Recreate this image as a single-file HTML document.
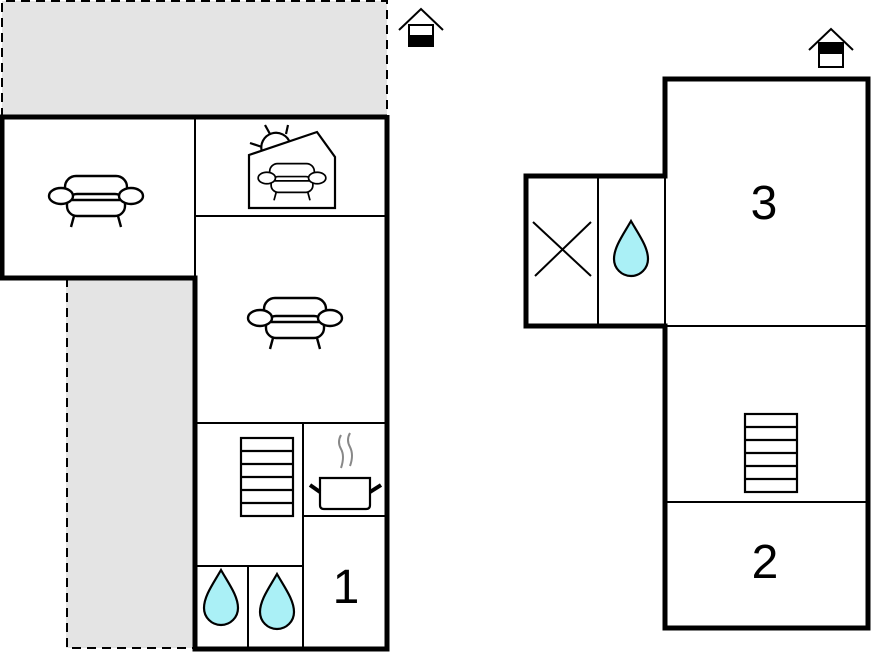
<!DOCTYPE html>
<html><head><style>html,body{margin:0;padding:0;background:#fff}svg{display:block}</style></head><body>
<svg width="873" height="652" viewBox="0 0 873 652" xmlns="http://www.w3.org/2000/svg">
<defs>
<g id="sofa" fill="none" stroke="#000" stroke-width="2.4">
<rect x="-31" y="-20" width="62" height="28" rx="11" fill="#fff"/>
<rect x="-29" y="-2" width="58" height="22" rx="10" fill="#fff"/>
<line x1="-24" y1="4" x2="24" y2="4"/>
<ellipse cx="-35" cy="0" rx="12" ry="8" fill="#fff"/>
<ellipse cx="35" cy="0" rx="12" ry="8" fill="#fff"/>
<line x1="-22" y1="20" x2="-25" y2="31"/><line x1="22" y1="20" x2="25" y2="31"/>
</g>
<path id="drop" d="M0,-30 C-8,-16 -17,-4 -17,8 A17,17 0 0 0 17,8 C17,-4 8,-16 0,-30 Z" fill="#aaf0f6" stroke="#000" stroke-width="2.2"/>
<g id="stairs" fill="none" stroke="#000" stroke-width="2.2">
<rect x="0" y="0" width="52" height="78"/>
<line x1="0" y1="13" x2="52" y2="13"/><line x1="0" y1="26" x2="52" y2="26"/><line x1="0" y1="39" x2="52" y2="39"/><line x1="0" y1="52" x2="52" y2="52"/><line x1="0" y1="65" x2="52" y2="65"/>
</g>
</defs>
<rect x="2" y="1" width="385" height="116" fill="#e4e4e4"/>
<rect x="66" y="278" width="129" height="370" fill="#e4e4e4"/>
<g stroke="#000" stroke-width="2" stroke-dasharray="9,6" fill="none">
<path d="M2,117 V1 H387 V117"/>
<path d="M67,278 V648 H195"/>
</g>
<rect x="2" y="117" width="193" height="161" fill="#fff"/>
<rect x="195" y="117" width="192" height="531" fill="#fff"/>
<g stroke="#000" stroke-width="2" fill="none">
<line x1="195" y1="117" x2="195" y2="278"/>
<line x1="195" y1="216" x2="387" y2="216"/>
<line x1="195" y1="423" x2="387" y2="423"/>
<line x1="303" y1="423" x2="303" y2="648"/>
<line x1="303" y1="516" x2="387" y2="516"/>
<line x1="195" y1="566" x2="303" y2="566"/>
<line x1="248" y1="566" x2="248" y2="648"/>
</g>
<g stroke="#000" stroke-width="5" fill="none">
<path d="M387,117 H2 V278 H195 V649 H387 V115"/>
</g>
<rect x="665" y="79" width="203" height="549" fill="#fff"/>
<rect x="526" y="176" width="139" height="150" fill="#fff"/>
<g stroke="#000" stroke-width="2" fill="none">
<line x1="665" y1="176" x2="665" y2="326"/>
<line x1="598" y1="176" x2="598" y2="326"/>
<line x1="665" y1="326" x2="868" y2="326"/>
<line x1="665" y1="502" x2="868" y2="502"/>
<line x1="533" y1="222" x2="591" y2="276"/><line x1="591" y1="222" x2="535" y2="276"/>
</g>
<g stroke="#000" stroke-width="5" fill="none">
<path d="M665,176 H526 V326 H665 V628 H868 V79 H665 Z"/>
</g>
<use href="#sofa" x="96" y="196"/>
<use href="#sofa" x="295" y="318"/>
<g fill="none" stroke="#000" stroke-width="2.2">
<path d="M262,152 A14,14 0 0 1 290,143"/>
<line x1="250" y1="143" x2="262" y2="147"/><line x1="265" y1="125" x2="270" y2="134"/><line x1="288" y1="125" x2="286" y2="134"/>
<path d="M249,208 V155 L317,132 L335,157 V208 Z" fill="#fff"/>
</g>
<g transform="translate(292,178) scale(0.72)"><use href="#sofa"/></g>
<use href="#stairs" x="241" y="438"/>
<use href="#stairs" x="745" y="414"/>
<use href="#drop" x="221" y="600"/>
<use href="#drop" x="277" y="604"/>
<use href="#drop" x="631" y="251"/>
<g fill="none" stroke="#000" stroke-width="2.2">
<path d="M320,478 H370 V505 Q370,509 366,509 H324 Q320,509 320,505 Z" fill="#fff"/>
</g>
<g stroke="#000" stroke-width="4"><line x1="310" y1="485" x2="320" y2="492"/><line x1="370" y1="492" x2="381" y2="485"/></g>
<g stroke="#888" stroke-width="2" fill="none">
<path d="M341,435 Q337,442 341,449 Q345,456 341,468"/><path d="M350,433 Q346,440 350,447 Q354,455 350,466"/>
</g>
<g fill="none" stroke="#000" stroke-width="2">
<path d="M399,30 L421,9 L443,30"/>
<rect x="409" y="25" width="24" height="21" fill="#fff"/>
<rect x="409" y="36" width="24" height="10" fill="#000"/>
<path d="M809,50 L831,29 L853,50"/>
<rect x="819" y="43" width="24" height="24" fill="#fff"/>
<rect x="819" y="43" width="24" height="10" fill="#000"/>
</g>
<g font-family="Liberation Sans, sans-serif" font-size="48" text-anchor="middle" fill="#000">
<text x="346" y="603">1</text>
<text x="765" y="578">2</text>
<text x="764" y="219">3</text>
</g>
</svg>
</body></html>
